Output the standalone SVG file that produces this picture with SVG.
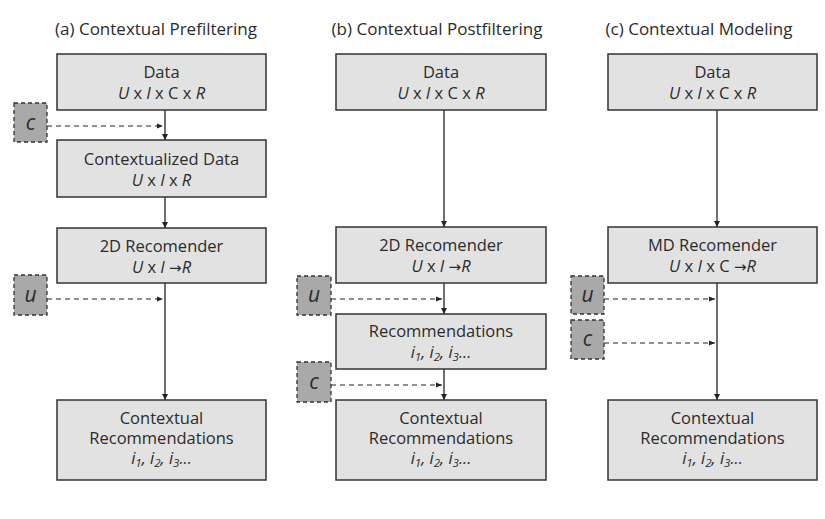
<svg xmlns="http://www.w3.org/2000/svg" width="825" height="519" viewBox="0 0 825 519">
<style>
text{font-family:"Open Sans","Noto Sans","Liberation Sans",sans-serif;fill:#2b2b2b;text-anchor:middle}
.title{font-size:17px}
.lbl{font-size:16.5px}
.it{font-style:italic}
.box{fill:#e2e2e2;stroke:#333;stroke-width:1.5}
.ctx{fill:#a9a9a9;stroke:#333;stroke-width:1.3;stroke-dasharray:4 3}
.ctxt{font-size:21px;font-style:italic}
.sub{font-size:11.5px}
.arr{font-family:"DejaVu Sans",sans-serif;font-size:15px}
.solid{stroke:#222;stroke-width:1.3;fill:none;marker-end:url(#ah)}
.dash{stroke:#222;stroke-width:1.2;fill:none;stroke-dasharray:5 4;marker-end:url(#ah2)}
</style>
<defs>
<marker id="ah" viewBox="0 0 10 10" refX="10" refY="5" markerWidth="6" markerHeight="6" markerUnits="userSpaceOnUse" orient="auto">
<path d="M0,0 L10,5 L0,10 z" fill="#222"/>
</marker>
<marker id="ah2" viewBox="0 0 10 10" refX="10" refY="5" markerWidth="6" markerHeight="6" markerUnits="userSpaceOnUse" orient="auto">
<path d="M0,1 L10,5 L0,9 z" fill="#222"/>
</marker>
</defs>
<rect width="825" height="519" fill="#fff"/>

<text class="title" x="156" y="35">(a) Contextual Prefiltering</text>
<text class="title" x="437" y="35">(b) Contextual Postfiltering</text>
<text class="title" x="699" y="35">(c) Contextual Modeling</text>

<g id="connectors">
<path class="solid" d="M165,110 V140"/>
<path class="solid" d="M165,197 V228"/>
<path class="solid" d="M165,283 V400"/>
<path class="dash" d="M47,126 H163"/>
<path class="dash" d="M47,299 H163"/>

<path class="solid" d="M444,110 V227"/>
<path class="solid" d="M444,283 V314"/>
<path class="solid" d="M444,369 V400"/>
<path class="dash" d="M331,299 H442"/>
<path class="dash" d="M331,385 H442"/>

<path class="solid" d="M717,110 V227"/>
<path class="solid" d="M717,283 V400"/>
<path class="dash" d="M604,299 H715"/>
<path class="dash" d="M604,343 H715"/>
</g>

<!-- Panel a -->
<g id="a_data">
<rect class="box" x="57" y="54" width="209" height="56"/>
<text class="lbl" x="161.5" y="78">Data</text>
<text class="lbl" x="161.5" y="99"><tspan class="it">U</tspan> x <tspan class="it">I</tspan> x C x <tspan class="it">R</tspan></text>
</g>
<g id="a_c">
<rect class="ctx" x="14" y="103" width="33" height="39"/>
<text class="ctxt" x="30.5" y="130">c</text>
</g>
<g id="a_ctxdata">
<rect class="box" x="57" y="140" width="209" height="57"/>
<text class="lbl" x="161.5" y="165">Contextualized Data</text>
<text class="lbl" x="161.5" y="186"><tspan class="it">U</tspan> x <tspan class="it">I</tspan> x <tspan class="it">R</tspan></text>
</g>
<g id="a_rec">
<rect class="box" x="57" y="228" width="209" height="55"/>
<text class="lbl" x="161.5" y="252">2D Recomender</text>
<text class="lbl" x="161.5" y="273"><tspan class="it">U</tspan> x <tspan class="it">I</tspan> <tspan class="arr">→</tspan><tspan class="it">R</tspan></text>
</g>
<g id="a_u">
<rect class="ctx" x="14" y="275" width="33" height="40"/>
<text class="ctxt" x="30.5" y="302">u</text>
</g>
<g id="a_out">
<rect class="box" x="57" y="400" width="209" height="80"/>
<text class="lbl" x="161.5" y="424">Contextual</text>
<text class="lbl" x="161.5" y="444">Recommendations</text>
<text class="lbl it" x="161.5" y="464">i<tspan class="sub" dy="3">1</tspan><tspan dy="-3">, i</tspan><tspan class="sub" dy="3">2</tspan><tspan dy="-3">, i</tspan><tspan class="sub" dy="3">3</tspan><tspan dy="-3">...</tspan></text>
</g>

<!-- Panel b -->
<g id="b_data">
<rect class="box" x="336" y="54" width="210" height="56"/>
<text class="lbl" x="441" y="78">Data</text>
<text class="lbl" x="441" y="99"><tspan class="it">U</tspan> x <tspan class="it">I</tspan> x C x <tspan class="it">R</tspan></text>
</g>
<g id="b_rec">
<rect class="box" x="336" y="227" width="210" height="56"/>
<text class="lbl" x="441" y="251">2D Recomender</text>
<text class="lbl" x="441" y="272"><tspan class="it">U</tspan> x <tspan class="it">I</tspan> <tspan class="arr">→</tspan><tspan class="it">R</tspan></text>
</g>
<g id="b_u">
<rect class="ctx" x="297" y="276" width="34" height="39"/>
<text class="ctxt" x="314" y="302">u</text>
</g>
<g id="b_recs">
<rect class="box" x="336" y="314" width="210" height="55"/>
<text class="lbl" x="441" y="337">Recommendations</text>
<text class="lbl it" x="441" y="358">i<tspan class="sub" dy="3">1</tspan><tspan dy="-3">, i</tspan><tspan class="sub" dy="3">2</tspan><tspan dy="-3">, i</tspan><tspan class="sub" dy="3">3</tspan><tspan dy="-3">...</tspan></text>
</g>
<g id="b_c">
<rect class="ctx" x="297" y="362" width="34" height="40"/>
<text class="ctxt" x="314" y="389">c</text>
</g>
<g id="b_out">
<rect class="box" x="336" y="400" width="210" height="80"/>
<text class="lbl" x="441" y="424">Contextual</text>
<text class="lbl" x="441" y="444">Recommendations</text>
<text class="lbl it" x="441" y="464">i<tspan class="sub" dy="3">1</tspan><tspan dy="-3">, i</tspan><tspan class="sub" dy="3">2</tspan><tspan dy="-3">, i</tspan><tspan class="sub" dy="3">3</tspan><tspan dy="-3">...</tspan></text>
</g>

<!-- Panel c -->
<g id="c_data">
<rect class="box" x="608" y="54" width="209" height="56"/>
<text class="lbl" x="712.5" y="78">Data</text>
<text class="lbl" x="712.5" y="99"><tspan class="it">U</tspan> x <tspan class="it">I</tspan> x C x <tspan class="it">R</tspan></text>
</g>
<g id="c_rec">
<rect class="box" x="608" y="227" width="209" height="56"/>
<text class="lbl" x="712.5" y="251">MD Recomender</text>
<text class="lbl" x="712.5" y="272"><tspan class="it">U</tspan> x <tspan class="it">I</tspan> x C <tspan class="arr">→</tspan><tspan class="it">R</tspan></text>
</g>
<g id="c_u">
<rect class="ctx" x="571" y="276" width="33" height="38"/>
<text class="ctxt" x="587.5" y="302">u</text>
</g>
<g id="c_c">
<rect class="ctx" x="571" y="320" width="33" height="39"/>
<text class="ctxt" x="587.5" y="346">c</text>
</g>
<g id="c_out">
<rect class="box" x="608" y="400" width="209" height="80"/>
<text class="lbl" x="712.5" y="424">Contextual</text>
<text class="lbl" x="712.5" y="444">Recommendations</text>
<text class="lbl it" x="712.5" y="464">i<tspan class="sub" dy="3">1</tspan><tspan dy="-3">, i</tspan><tspan class="sub" dy="3">2</tspan><tspan dy="-3">, i</tspan><tspan class="sub" dy="3">3</tspan><tspan dy="-3">...</tspan></text>
</g>
</svg>
